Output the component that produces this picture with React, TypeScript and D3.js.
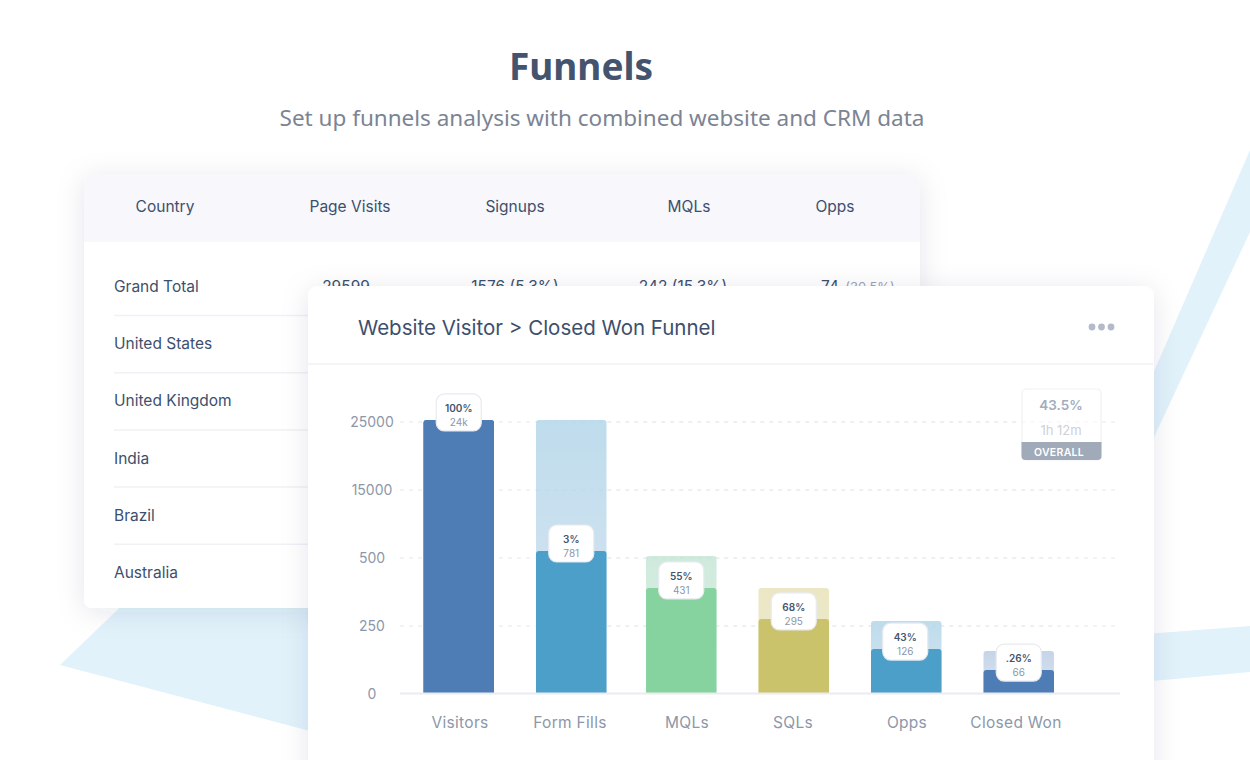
import React from 'react';
import * as d3 from 'd3';

const FONT = 'Inter, sans-serif';

// table behind the chart
const tableHeaders = ['Country', 'Page Visits', 'Signups', 'MQLs', 'Opps'];
const tableHeaderX = [165, 350, 515, 689, 835];
const countries = ['Grand Total', 'United States', 'United Kingdom', 'India', 'Brazil', 'Australia'];
const totalCells = ['29599', '1576 (5.3%)', '242 (15.3%)'];
const totalCellX = [346, 515, 683];

// funnel chart
const stages = ['Visitors', 'Form Fills', 'MQLs', 'SQLs', 'Opps', 'Closed Won'];
const stageLabelX = [460, 570, 687, 793, 907, 1016];
const barValues = [25300, 1990, 390, 276, 165, 88];
const ghostValues = [25300, 25300, 925, 390, 268, 158];
const barColors = ['#4e7cb5', '#4b9fc9', '#86d3a0', '#cbc36c', '#4b9fc9', '#4e7cb5'];
const ghostTop = ['#4e7cb5', '#bedcec', '#cfeadd', '#ebe7c4', '#bedcec', '#c5d5e8'];
const ghostBottom = ['#4e7cb5', '#dbe6f2', '#deefe6', '#eeebcf', '#d6e5f1', '#dbe4f0'];
const pctLabels = ['100%', '3%', '55%', '68%', '43%', '.26%'];
const countLabels = ['24k', '781', '431', '295', '126', '66'];
const badgeOffset = [-3, -3, -3, -3, -4, -3];
const yTicks = [0, 250, 500, 15000, 25000];

const barLeft = [423.5, 536, 646, 758.5, 871, 983.5];
const barW = 70.5;

const y = d3.scaleLinear().domain(yTicks).range([694, 626, 558, 490, 422]);

export default function App() {
  const topBar = (i: number, v: number, fill: string) => {
    const path = d3.path();
    const x0 = barLeft[i];
    const yy = y(v);
    const r = 3;
    path.moveTo(x0, 693);
    path.lineTo(x0, yy + r);
    path.quadraticCurveTo(x0, yy, x0 + r, yy);
    path.lineTo(x0 + barW - r, yy);
    path.quadraticCurveTo(x0 + barW, yy, x0 + barW, yy + r);
    path.lineTo(x0 + barW, 693);
    path.closePath();
    return <path d={path.toString()} fill={fill} />;
  };

  return (
    <svg
      width={1250}
      height={760}
      viewBox="0 0 1250 760"
      style={{ position: 'fixed', left: 0, top: 0, background: '#fff' }}
      fontFamily={FONT}
    >
      <defs>
        <filter id="shadow" x="-15%" y="-15%" width="130%" height="130%">
          <feDropShadow dx="0" dy="4" stdDeviation="14" floodColor="#1f2d45" floodOpacity="0.10" />
        </filter>
        {stages.map((s, i) => (
          <linearGradient key={s} id={`ghost${i}`} x1="0" x2="0" y1="0" y2="1">
            <stop offset="0" stopColor={ghostTop[i]} />
            <stop offset="1" stopColor={ghostBottom[i]} />
          </linearGradient>
        ))}
        <clipPath id="tableClip">
          <rect x={84} y={174} width={836} height={434} rx={8} />
        </clipPath>
      </defs>

      <polygon points="60,665 190,540 420,540 420,760" fill="#e1f2fb" />
      <polygon points="1250,150 1250,232 1120,510 1120,450" fill="#e1f2fb" />
      <polygon points="1120,636 1250,626 1250,672 1120,684" fill="#e1f2fb" />

      <text x={581} y={80} textAnchor="middle" fontFamily="'Noto Sans', sans-serif" fontWeight={700} fontSize={37} fill="#44546f">Funnels</text>
      <text x={602} y={126} textAnchor="middle" fontFamily="'Noto Sans', sans-serif" fontSize={22.5} fill="#7b8494">Set up funnels analysis with combined website and CRM data</text>

      <rect x={84} y={174} width={836} height={434} rx={8} fill="#fff" filter="url(#shadow)" />
      <g clipPath="url(#tableClip)">
        <rect x={84} y={174} width={836} height={68} fill="#f7f7fc" />
      </g>
      {tableHeaders.map((h, i) => (
        <text key={h} x={tableHeaderX[i]} y={212} textAnchor="middle" fontSize={15.5} fill="#3d4f6d">{h}</text>
      ))}
      {countries.map((c, i) => (
        <g key={c}>
          <text x={114} y={292 + i * 57.2} fontSize={15.5} fill="#3d4f6d">{c}</text>
          {i < countries.length - 1 && (
            <line x1={114} x2={400} y1={315.5 + i * 57.2} y2={315.5 + i * 57.2} stroke="#f0f1f5" strokeWidth={1.5} />
          )}
        </g>
      ))}
      {totalCells.map((t, i) => (
        <text key={t} x={totalCellX[i]} y={292} textAnchor="middle" fontSize={15.5} fill="#3d4f6d">{t}</text>
      ))}
      <text x={830} y={292} textAnchor="middle" fontSize={15.5} fill="#3d4f6d">74</text>
      <text x={870} y={292} textAnchor="middle" fontSize={13} fill="#9aa3b2">(30.5%)</text>

      {/* chart card runs off the bottom of the page */}
      <rect x={308} y={286} width={846} height={520} rx={10} fill="#fff" filter="url(#shadow)" />
      <text x={358} y={335} fontSize={20.5} fill="#3d4f6d">Website Visitor &gt; Closed Won Funnel</text>
      {[0, 1, 2].map(i => (
        <circle key={i} cx={1092 + i * 9.5} cy={327} r={3.4} fill="#b3bbca" />
      ))}
      <line x1={308} x2={1153} y1={364} y2={364} stroke="#f0f1f5" strokeWidth={1.5} />

      {yTicks.map(t => (
        <g key={t}>
          <text x={372} y={y(t) + 5} textAnchor="middle" fontSize={14} fill="#8d97a9">{t}</text>
          {t > 0 && (
            <line x1={400} x2={1120} y1={y(t)} y2={y(t)} stroke="#e6e8ee" strokeWidth={1.2} strokeDasharray="4 5" />
          )}
        </g>
      ))}

      {stages.map((s, i) => (
        <g key={s}>
          {topBar(i, ghostValues[i], `url(#ghost${i})`)}
          {topBar(i, barValues[i], barColors[i])}
        </g>
      ))}
      {yTicks.filter(t => t > 0).map(t => (
        <line key={t} x1={536} x2={1053} y1={y(t)} y2={y(t)} stroke="#9fb4c8" strokeOpacity={0.12} strokeWidth={1.2} strokeDasharray="4 5" />
      ))}
      <line x1={400} x2={1120} y1={693.5} y2={693.5} stroke="#ebecf2" strokeWidth={2} />

      {stages.map((s, i) => (
        <text key={s} x={stageLabelX[i]} y={728} textAnchor="middle" fontSize={15.5} fill="#8d97a9" letterSpacing={0.3}>{s}</text>
      ))}

      {stages.map((s, i) => {
        const cx = barLeft[i] + barW / 2 + badgeOffset[i] + 3;
        const top = y(barValues[i]) - 26;
        return (
          <g key={s}>
            <rect x={cx - 22.5} y={top} width={45} height={37} rx={8} fill="#fff" stroke="#e8eaf1" strokeWidth={1.2} />
            <text x={cx} y={top + 18} textAnchor="middle" fontSize={10} fontWeight={600} fill="#44546f">{pctLabels[i]}</text>
            <text x={cx} y={top + 32} textAnchor="middle" fontSize={10} fill="#8d97a9">{countLabels[i]}</text>
          </g>
        );
      })}

      <rect x={1022} y={389} width={79} height={71} rx={4} fill="#fff" fillOpacity={0.6} stroke="#f0f1f5" strokeWidth={1.2} />
      <text x={1061} y={410} textAnchor="middle" fontSize={13.5} fontWeight={600} fill="#a3acbb">43.5%</text>
      <text x={1061} y={435} textAnchor="middle" fontSize={13} fill="#ccd1da">1h 12m</text>
      <path d="M1021.5,442 H1101.5 V456 a4,4 0 0 1 -4,4 H1025.5 a4,4 0 0 1 -4,-4 Z" fill="#a0aab9" />
      <text x={1059} y={455.5} textAnchor="middle" fontSize={10.5} fontWeight={600} fill="#fff" letterSpacing={0.3}>OVERALL</text>
    </svg>
  );
}
